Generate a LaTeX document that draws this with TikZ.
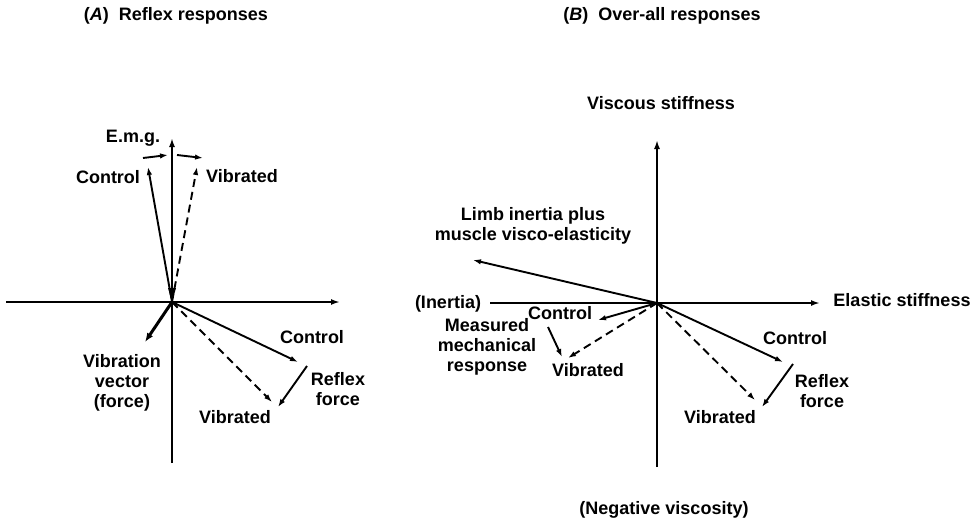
\documentclass[tikz,border=0pt]{standalone}
\usepackage{fontspec}
\setmainfont{Liberation Sans}
\usetikzlibrary{arrows.meta}

\begin{document}
\begin{tikzpicture}[
  x=1pt,y=-1pt,
  font=\fontsize{18}{20}\selectfont\bfseries,
  axis/.style={line width=2.2pt,-{Latex[length=9pt,width=6pt]}},
  vec/.style={line width=1.9pt,-{Latex[length=8pt,width=5.5pt]}},
  dvec/.style={vec,dash pattern=on 8pt off 5pt},
  thickvec/.style={line width=3pt,-{Latex[length=9pt,width=7pt]}},
  lbl/.style={align=center,inner sep=0pt}
]
\useasboundingbox (0,0) rectangle (979,519);

% titles
\node[lbl] (titA) at (176,16) {(\textit{A})\ \ Reflex responses};
\node[lbl] (titB) at (662,16) {(\textit{B})\ \ Over-all responses};

% panel A: reflex responses
\coordinate (oA) at (172,302);
\coordinate (aAw) at (6,302);
\coordinate (aAe) at (340,302);
\coordinate (aAn) at (172,138);
\coordinate (aAs) at (172,463);
\draw[axis,-] (aAw) -- (oA);
\draw[axis] (oA) -- (aAe);
\draw[axis,-] (aAs) -- (oA);
\draw[axis] (oA) -- (aAn);
\fill (168,288) -- (176,288) -- (172,302) -- cycle;

\node[lbl] (emgA) at (133,138) {E.m.g.};
\coordinate (eA1) at (143,158); \coordinate (eA2) at (168,155);
\coordinate (eA3) at (177,155); \coordinate (eA4) at (203,158);
\draw[vec] (eA1) -- (eA2);
\draw[vec] (eA3) -- (eA4);

\coordinate (cAu) at (148,167);
\coordinate (vAu) at (197,167);
\draw[vec] (oA) -- (cAu);
\draw[dvec] (oA) -- (vAu);
\node[lbl] (ctlAu) at (108,177) {Control};
\node[lbl] (vibAu) at (242,176) {Vibrated};

\coordinate (cAd) at (298,362);
\coordinate (vAd) at (272,402);
\coordinate (rA1) at (307,366); \coordinate (rA2) at (278,407);
\draw[vec] (oA) -- (cAd);
\draw[dvec] (oA) -- (vAd);
\draw[vec] (rA1) -- (rA2);
\node[lbl] (ctlAd) at (312,337) {Control};
\node[lbl] (refA) at (338,389) {Reflex\\force};
\node[lbl] (vibAd) at (235,417) {Vibrated};

\coordinate (fA) at (145,342);
\draw[thickvec] (oA) -- (fA);
\node[lbl] (vvA) at (122,383) {Vibration\\vector\\(force)};

% panel B: over-all responses
\coordinate (oB) at (657,303);
\coordinate (aBw) at (490,303);
\coordinate (aBe) at (820,303);
\coordinate (aBn) at (657,140);
\coordinate (aBs) at (657,467);
\draw[axis,-] (aBw) -- (oB);
\draw[axis] (oB) -- (aBe);
\draw[axis,-] (aBs) -- (oB);
\draw[axis] (oB) -- (aBn);
\node[lbl] (visc) at (661,103) {Viscous stiffness};
\node[lbl] (elas) at (902,300) {Elastic stiffness};
\node[lbl] (inert) at (448,304) {(Inertia)};
\node[lbl] (negv) at (664,510) {(Negative viscosity)};

\coordinate (lB) at (473,260);
\draw[vec] (oB) -- (lB);
\node[lbl] (limb) at (533,226) {Limb inertia plus\\muscle visco-elasticity};

\coordinate (cBl) at (598,320);
\coordinate (vBl) at (568,358);
\coordinate (mB1) at (548,327); \coordinate (mB2) at (562,357);
\draw[vec] (oB) -- (cBl);
\draw[dvec] (oB) -- (vBl);
\draw[vec] (mB1) -- (mB2);
\node[lbl] (ctlBl) at (560,313) {Control};
\node[lbl] (meas) at (487,347) {Measured\\mechanical\\response};
\node[lbl] (vibBl) at (588,370) {Vibrated};

\coordinate (cBr) at (783,362);
\coordinate (vBr) at (755,400);
\coordinate (rB1) at (793,364); \coordinate (rB2) at (762,407);
\draw[vec] (oB) -- (cBr);
\draw[dvec] (oB) -- (vBr);
\draw[vec] (rB1) -- (rB2);
\node[lbl] (ctlBr) at (795,338) {Control};
\node[lbl] (refB) at (822,391) {Reflex\\force};
\node[lbl] (vibBr) at (720,417) {Vibrated};
\end{tikzpicture}
\end{document}
